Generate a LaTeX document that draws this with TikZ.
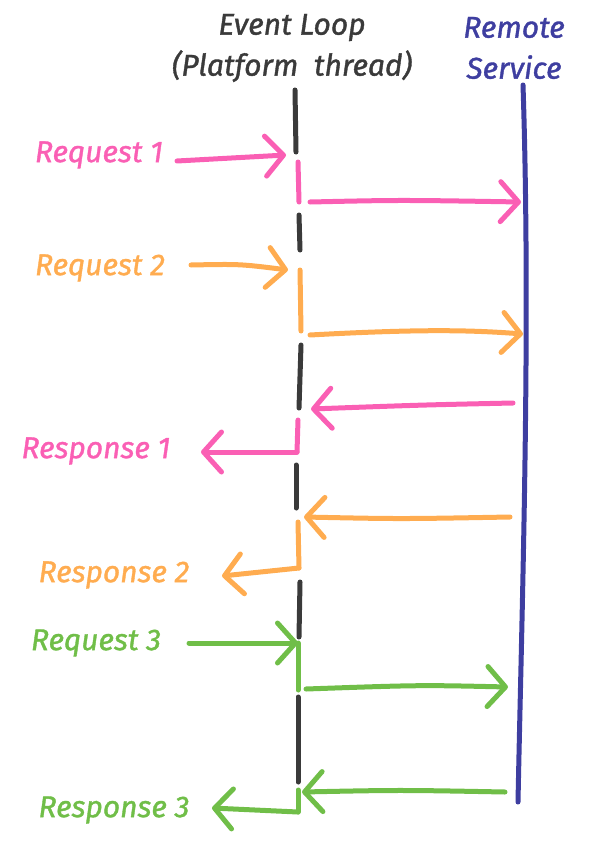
\documentclass[tikz,border=0pt]{standalone}
\usepackage{fontspec}
\setmainfont{Fira Sans}
\newfontfamily\handfont{Fira Sans}[ItalicFeatures={FakeBold=1.2}]
\usetikzlibrary{arrows.meta}
\definecolor{cpink}{RGB}{250,95,180}
\definecolor{corange}{RGB}{255,172,80}
\definecolor{cgreen}{RGB}{112,190,72}
\definecolor{cblack}{RGB}{58,58,58}
\definecolor{cblue}{RGB}{62,62,160}
\tikzset{
  lbl/.style={font=\handfont\fontsize{30}{41}\selectfont\itshape, inner sep=0pt, align=center},
  seg/.style={line width=5pt, line cap=round},
  msg/.style={line width=5pt, line cap=round, -{Straight Barb[length=18pt,width=40pt,line cap=round,line join=round]}},
}
\begin{document}
\begin{tikzpicture}[x=1pt,y=-1pt]
\useasboundingbox (0,0) rectangle (602,856);
% titles
\node[lbl, text=cblack] (loop) at (292,48) {Event Loop\\(Platform\ \ thread)};
\node[lbl, text=cblue] (remote) at (514,48) {Remote\\Service};
% remote service line
\coordinate (rtop) at (523,85);
\coordinate (rbot) at (518,802);
\draw[seg, cblue] (rtop) .. controls (531,330) and (522,600) .. (rbot);
% event loop segments
\coordinate (k1a) at (295,90);  \coordinate (k1b) at (296,152);
\coordinate (p1a) at (298,162); \coordinate (p1b) at (299,202);
\coordinate (k2a) at (299,215); \coordinate (k2b) at (300,250);
\coordinate (o1a) at (300,270); \coordinate (o1b) at (301,331);
\coordinate (k3a) at (301,345); \coordinate (k3b) at (299,408);
\coordinate (p2a) at (298,420); \coordinate (p2b) at (297,452);
\coordinate (k4a) at (296,465); \coordinate (k4b) at (296,508);
\coordinate (o2a) at (298,522); \coordinate (o2b) at (299,568);
\coordinate (k5a) at (300,582); \coordinate (k5b) at (299,637);
\coordinate (g1a) at (298,643); \coordinate (g1b) at (298,690);
\coordinate (k6a) at (298,697); \coordinate (k6b) at (298,782);
\coordinate (g2a) at (298,790); \coordinate (g2b) at (298,812);
\draw[seg, cblack] (k1a) -- (k1b);
\draw[seg, cpink] (p1a) -- (p1b);
\draw[seg, cblack] (k2a) -- (k2b);
\draw[seg, corange] (o1a) -- (o1b);
\draw[seg, cblack] (k3a) -- (k3b);
\draw[seg, cpink] (p2a) -- (p2b);
\draw[seg, cblack] (k4a) -- (k4b);
\draw[seg, corange] (o2a) -- (o2b);
\draw[seg, cblack] (k5a) -- (k5b);
\draw[seg, cgreen] (g1a) -- (g1b);
\draw[seg, cblack] (k6a) -- (k6b);
\draw[seg, cgreen] (g2a) -- (g2b);
% labels
\node[lbl, text=cpink] (req1) at (99,155) {Request 1};
\node[lbl, text=corange] (req2) at (100,268) {Request 2};
\node[lbl, text=cpink] (res1) at (96,451) {Response 1};
\node[lbl, text=corange] (res2) at (114,575) {Response 2};
\node[lbl, text=cgreen] (req3) at (96,643) {Request 3};
\node[lbl, text=cgreen] (res3) at (114,810) {Response 3};
% message endpoints
\coordinate (r1s) at (177,161); \coordinate (r1t) at (286,155);
\coordinate (m1s) at (310,202); \coordinate (m1t) at (521,202);
\coordinate (r2s) at (191,265); \coordinate (r2t) at (288,270);
\coordinate (m2s) at (310,335); \coordinate (m2t) at (523,334);
\coordinate (b1s) at (513,403); \coordinate (b1t) at (311,409);
\coordinate (s1t) at (201,452);
\coordinate (b2s) at (510,517); \coordinate (b2t) at (304,517);
\coordinate (s2t) at (222,576);
\coordinate (r3s) at (189,643); \coordinate (r3t) at (298,643);
\coordinate (m3s) at (306,689); \coordinate (m3t) at (508,687);
\coordinate (b3s) at (505,792); \coordinate (b3t) at (302,792);
\coordinate (s3t) at (212,808);
\draw[msg, cpink] (r1s) -- (r1t);
\draw[msg, cpink] (m1s) .. controls (400,200) .. (m1t);
\draw[msg, corange] (r2s) .. controls (240,264) .. (r2t);
\draw[msg, corange] (m2s) .. controls (420,329) and (470,330) .. (m2t);
\draw[msg, cpink] (b1s) .. controls (420,405) .. (b1t);
\draw[msg, cpink] (p2b) -- (s1t);
\draw[msg, corange] (b2s) .. controls (400,519) .. (b2t);
\draw[msg, corange] (o2b) -- (s2t);
\draw[msg, cgreen] (r3s) -- (r3t);
\draw[msg, cgreen] (m3s) .. controls (420,685) .. (m3t);
\draw[msg, cgreen] (b3s) .. controls (400,790) .. (b3t);
\draw[msg, cgreen] (g2b) -- (s3t);
\end{tikzpicture}
\end{document}
